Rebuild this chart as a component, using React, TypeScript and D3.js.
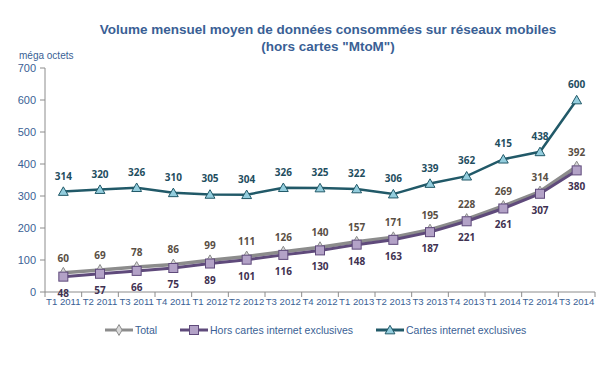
import React from 'react';
import * as d3 from 'd3';

const quarters = [
  'T1 2011', 'T2 2011', 'T3 2011', 'T4 2011', 'T1 2012', 'T2 2012', 'T3 2012', 'T4 2012',
  'T1 2013', 'T2 2013', 'T3 2013', 'T4 2013', 'T1 2014', 'T2 2014', 'T3 2014',
];
const total = [60, 69, 78, 86, 99, 111, 126, 140, 157, 171, 195, 228, 269, 314, 392];
const horsCartes = [48, 57, 66, 75, 89, 101, 116, 130, 148, 163, 187, 221, 261, 307, 380];
const cartesInternet = [314, 320, 326, 310, 305, 304, 326, 325, 322, 306, 339, 362, 415, 438, 600];
const yTicks = [0, 100, 200, 300, 400, 500, 600, 700];

const W = 603;
const H = 369;
const left = 45;
const right = 595;
const top = 68;
const bottom = 292;

const labelFont = '"Open Sans", "DejaVu Sans", sans-serif';
const axisFont = '"Liberation Sans", Arial, sans-serif';

const App = () => {
  const x = d3.scaleBand().domain(quarters).range([left, right]);
  const y = d3.scaleLinear().domain([0, 700]).range([bottom, top]);
  const cx = (i: number) => (x(quarters[i]) as number) + x.bandwidth() / 2;
  const line = d3.line<number>().x((_, i) => cx(i)).y(d => y(d));

  const tri = d3.symbol().type(d3.symbolTriangle).size(42)();
  const diamond = d3.symbol().type(d3.symbolDiamond).size(34)();

  const legend = [
    { name: 'Total', x: 105, color: '#8c8c8c', fill: '#d9d9d9', shape: 'diamond' },
    { name: 'Hors cartes internet exclusives', x: 180, color: '#5f4a7b', fill: '#b3a2c7', shape: 'square' },
    { name: 'Cartes internet exclusives', x: 376, color: '#215968', fill: '#93cddd', shape: 'tri' },
  ];

  const marker = (shape: string, px: number, py: number, fill: string, stroke: string, key?: any) => {
    if (shape === 'square')
      return <rect key={key} x={px - 4.5} y={py - 4.5} width={9} height={9} fill={fill} stroke={stroke} strokeWidth={1} />;
    return (
      <path key={key} d={shape === 'tri' ? tri : diamond} transform={`translate(${px},${py + (shape === 'tri' ? 1 : 0)})`}
        fill={fill} stroke={stroke} strokeWidth={1} />
    );
  };

  return (
    <svg width={W} height={H} style={{ position: 'absolute', left: 0, top: 0, background: '#fff' }}>
      <text x={328} y={34} textAnchor="middle" fontFamily={axisFont} fontWeight="bold" fontSize={13.5} fill="#3a5f95">
        Volume mensuel moyen de données consommées sur réseaux mobiles
      </text>
      <text x={328} y={51} textAnchor="middle" fontFamily={axisFont} fontWeight="bold" fontSize={13.5} fill="#3a5f95">
        (hors cartes "MtoM")
      </text>
      <text x={19} y={59} fontFamily={axisFont} fontSize={10} fill="#3a5f95">méga octets</text>

      {/* y axis */}
      <line x1={left} x2={left} y1={top} y2={bottom} stroke="#8c8c8c" />
      {yTicks.map(t => (
        <g key={t}>
          <line x1={left - 5} x2={left} y1={y(t)} y2={y(t)} stroke="#8c8c8c" />
          <text x={left - 9} y={y(t) + 4} textAnchor="end" fontFamily={axisFont} fontSize={11} fill="#3a5f95">{t}</text>
        </g>
      ))}

      {/* x axis */}
      <line x1={left} x2={right} y1={bottom} y2={bottom} stroke="#8c8c8c" />
      {quarters.map((q, i) => (
        <g key={q}>
          <line x1={x(q)} x2={x(q)} y1={bottom} y2={bottom + 5} stroke="#8c8c8c" />
          <text x={cx(i)} y={bottom + 13} textAnchor="middle" fontFamily={axisFont} fontSize={9.6} fill="#3a5f95">{q}</text>
        </g>
      ))}
      <line x1={right} x2={right} y1={bottom} y2={bottom + 5} stroke="#8c8c8c" />

      {/* series */}
      <path d={line(cartesInternet) as string} fill="none" stroke="#215968" strokeWidth={2.5} />
      <path d={line(total) as string} fill="none" stroke="#8c8c8c" strokeWidth={3.5} />
      <path d={line(horsCartes) as string} fill="none" stroke="#5f4a7b" strokeWidth={3} />
      {total.map((v, i) => marker('diamond', cx(i), y(v), '#d9d9d9', '#8c8c8c', 'd' + i))}
      {horsCartes.map((v, i) => marker('square', cx(i), y(v), '#b3a2c7', '#5f4a7b', 's' + i))}
      {cartesInternet.map((v, i) => marker('tri', cx(i), y(v), '#93cddd', '#215968', 't' + i))}

      {/* data labels */}
      {cartesInternet.map((v, i) => (
        <text key={'lc' + i} x={cx(i)} y={y(v) - 12} textAnchor="middle" fontFamily={labelFont} fontWeight="bold" fontSize={10} fill="#1f4e5f">{v}</text>
      ))}
      {total.map((v, i) => (
        <text key={'lt' + i} x={cx(i)} y={y(v) - 11} textAnchor="middle" fontFamily={labelFont} fontWeight="bold" fontSize={10} fill="#5a4f45">{v}</text>
      ))}
      {horsCartes.map((v, i) => (
        <text key={'lh' + i} x={cx(i)} y={y(v) + 20} textAnchor="middle" fontFamily={labelFont} fontWeight="bold" fontSize={10} fill="#3f3151">{v}</text>
      ))}

      {/* legend */}
      {legend.map(l => (
        <g key={l.name}>
          <line x1={l.x} x2={l.x + 28} y1={330} y2={330} stroke={l.color} strokeWidth={3} />
          {marker(l.shape, l.x + 14, 330, l.fill, l.color)}
          <text x={l.x + 30} y={334} fontFamily={axisFont} fontSize={10.5} fill="#3a5f95">{l.name}</text>
        </g>
      ))}
    </svg>
  );
};

export default App;
